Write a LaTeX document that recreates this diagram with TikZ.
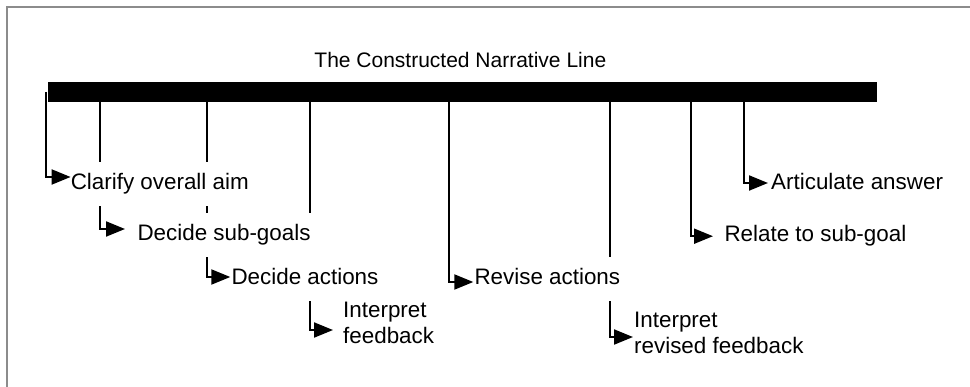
\documentclass[tikz,border=0pt]{standalone}
\usepackage{fontspec}
\setmainfont{Liberation Sans}
\usetikzlibrary{arrows.meta,backgrounds,positioning}

\tikzset{
    lbl/.style={fill=white,anchor=west,inner xsep=0pt,inner ysep=0pt,text height=16.5pt,text depth=5pt,minimum height=44pt},
    lbltwo/.style={fill=white,anchor=north west,inner sep=0pt,align=left},
    link/.style={line width=2pt,-{Triangle[length=19pt,width=15pt]}}
}

\begin{document}
\begin{tikzpicture}[x=1pt,y=-1pt,font=\fontsize{22.4}{26}\selectfont]
    \useasboundingbox (0,0) rectangle (970,387);
    \draw [black!45,line width=2.5pt] (7,400) |- (990,7);
    \node (bar) [fill=black,inner sep=0pt,minimum width=829.3pt,minimum height=20pt] at (462.35,92) {};
    \node (title) [inner sep=0pt,above=14pt of bar,xshift=-2pt,font=\fontsize{21}{25}\selectfont] {The Constructed Narrative Line};
    \node (aim) [lbl] at (70.6,184.2) {Clarify overall aim};
    \node (subgoals) [lbl] at (137.3,235) {Decide sub-goals};
    \node (actions) [lbl] at (231.3,279.2) {Decide actions};
    \node (feedback) [lbltwo] at (343,302) {Interpret\\feedback};
    \node (revise) [lbl] at (474.3,279.2) {Revise actions};
    \node (revfeedback) [lbltwo] at (634,312) {Interpret\\revised feedback};
    \node (relate) [lbl] at (724.3,236.2) {Relate to sub-goal};
    \node (answer) [lbl] at (771,184.2) {Articulate answer};
    \begin{scope}[on background layer]
        \draw [link] ([xshift=-2pt]bar.west) |- ([yshift=7.2pt]aim.west);
        \draw [link] ([xshift=52.3pt]bar.south west) |- ([xshift=-12.3pt,yshift=6pt]subgoals.west);
        \draw [link] ([xshift=159.3pt]bar.south west) |- ([xshift=-1pt,yshift=2.2pt]actions.west);
        \draw [link] ([xshift=262.3pt]bar.south west) |- ([xshift=-10pt,yshift=-7pt]feedback.west);
        \draw [link] ([xshift=401.3pt]bar.south west) |- ([xshift=-1pt,yshift=-2.8pt]revise.west);
        \draw [link] ([xshift=562pt]bar.south west) |- ([xshift=-1pt,yshift=-4pt]revfeedback.west);
        \draw [link] ([xshift=643pt]bar.south west) |- ([xshift=-11.3pt]relate.west);
        \draw [link] ([xshift=696.3pt]bar.south west) |- ([xshift=-3pt,yshift=1.2pt]answer.west);
    \end{scope}
\end{tikzpicture}
\end{document}
